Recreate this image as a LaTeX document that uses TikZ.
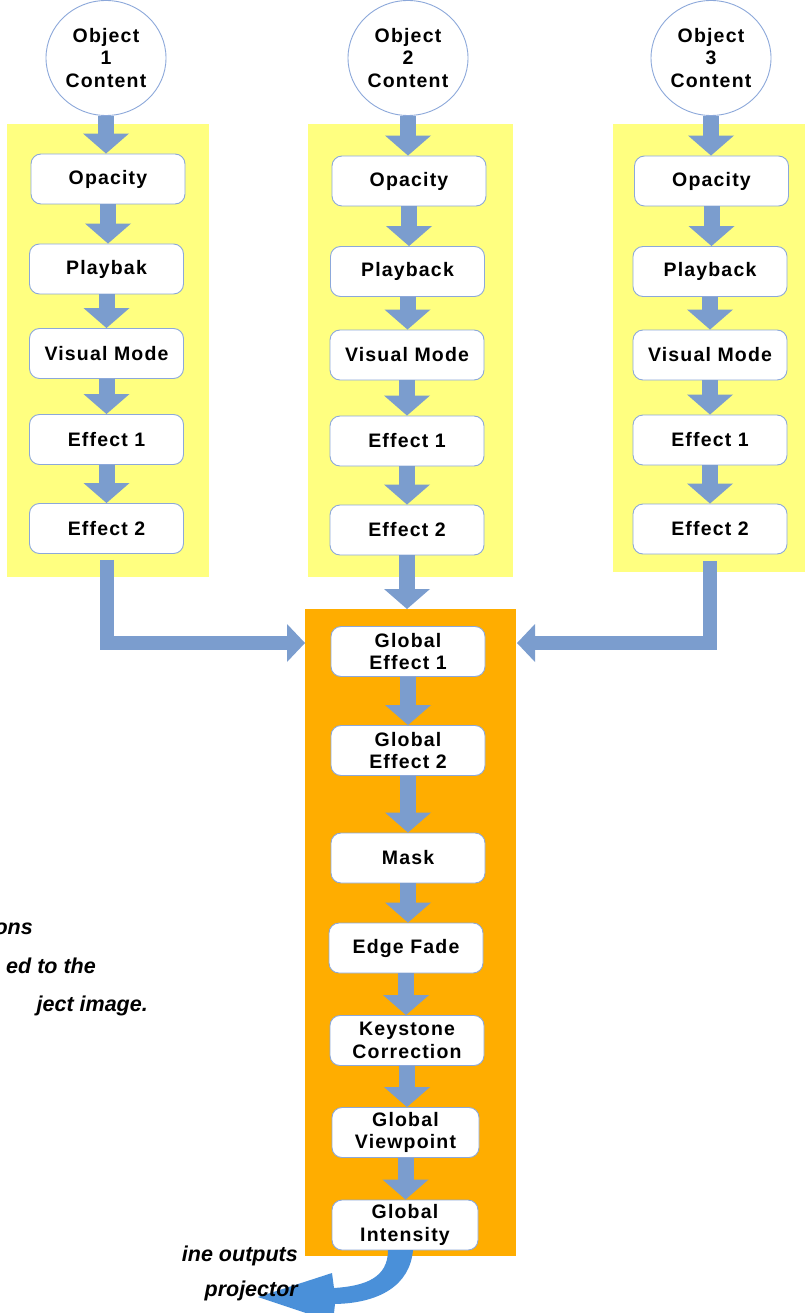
\documentclass[tikz,border=0pt]{standalone}
\usepackage{fontspec}
\newfontfamily\lbx{Liberation Sans}[LetterSpace=6]
\newfontfamily\lnote{Liberation Sans}
\usetikzlibrary{arrows.meta,shapes.geometric}
\definecolor{arrc}{RGB}{123,157,206}
\definecolor{yel}{RGB}{255,255,128}
\definecolor{org}{RGB}{255,173,0}
\definecolor{bord}{RGB}{140,168,218}
\definecolor{outblue}{RGB}{74,144,217}
\tikzset{
  txt/.style={font=\lbx\bfseries\fontsize{19.5}{22.8}\selectfont, align=center, text=black},
  box/.style={txt, draw=bord, line width=0.9pt, fill=white, rounded corners=10pt,
    minimum width=154pt, minimum height=50pt, inner sep=0pt},
  circ/.style={txt, ellipse, draw=bord, line width=0.9pt, fill=white,
    minimum width=120pt, minimum height=115pt, inner sep=0pt},
  panel/.style={draw=none, inner sep=0pt, outer sep=0pt},
  varr/.style={draw=arrc, line width=16pt, -{Triangle[width=46pt,length=20pt,line width=0pt]}},
  larr/.style={draw=arrc, line width=14pt, line join=miter, -{Triangle[width=38pt,length=18pt,line width=0pt]}},
  note/.style={font=\lnote\bfseries\itshape\fontsize{21.5}{24}\selectfont, text=black, inner sep=0pt}
}
\begin{document}
\begin{tikzpicture}[x=1pt,y=-1pt]
\useasboundingbox (0,0) rectangle (804,1313);
% panels
\node[panel, fill=yel, minimum width=202pt, minimum height=453pt] (y1) at (108,350.5) {};
\node[panel, fill=yel, minimum width=205pt, minimum height=453pt] (y2) at (410.5,350.5) {};
\node[panel, fill=yel, minimum width=193pt, minimum height=448pt] (y3) at (709.5,348) {};
\node[panel, fill=org, minimum width=211pt, minimum height=647pt] (gl) at (410.5,932.5) {};
% circles
\node[circ] (o1) at (106,58) {Object\\1\\Content};
\node[circ] (o2) at (408,58) {Object\\2\\Content};
\node[circ] (o3) at (711,58) {Object\\3\\Content};
% column 1
\node[box] (a1) at (108,179) {Opacity};
\node[box] (a2) at (106.5,269) {Playbak};
\node[box] (a3) at (106.5,353.5) {Visual Mode};
\node[box] (a4) at (106.5,439.5) {Effect 1};
\node[box] (a5) at (106.5,528.5) {Effect 2};
% column 2
\node[box] (b1) at (409,181) {Opacity};
\node[box] (b2) at (407.5,271.5) {Playback};
\node[box] (b3) at (407,355) {Visual Mode};
\node[box] (b4) at (407,441) {Effect 1};
\node[box] (b5) at (407,530) {Effect 2};
% column 3
\node[box] (c1) at (711.5,181) {Opacity};
\node[box] (c2) at (710,271.5) {Playback};
\node[box] (c3) at (710,355) {Visual Mode};
\node[box] (c4) at (710,440) {Effect 1};
\node[box] (c5) at (710,529) {Effect 2};
% global column
\node[box] (g1) at (408,651.5) {Global\\Effect 1};
\node[box] (g2) at (408,750.5) {Global\\Effect 2};
\node[box] (g3) at (408,858) {Mask};
\node[box] (g4) at (406,948) {Edge Fade};
\node[box] (g5) at (407,1040.5) {Keystone\\Correction};
\node[box, minimum width=147pt] (g6) at (405.5,1132.5) {Global\\Viewpoint};
\node[box, minimum width=146pt] (g7) at (405,1225) {Global\\Intensity};
% vertical arrows
\foreach \s/\t in {o1/a1,a1/a2,a2/a3,a3/a4,a4/a5,
                   o2/b1,b1/b2,b2/b3,b3/b4,b4/b5,
                   o3/c1,c1/c2,c2/c3,c3/c4,c4/c5,
                   g1/g2,g2/g3,g3/g4,g4/g5,g5/g6,g6/g7}
  \draw[varr] (\s.south) -- (\s.south |- \t.north);
\draw[varr] (b5.south) -- (b5.south |- gl.north);
% side arrows
\coordinate (lin) at (305,643);
\coordinate (rin) at (517,643);
\draw[larr] ([yshift=-6pt]a5.south) |- (lin);
\draw[larr] ([yshift=-7pt]c5.south) |- (rin);
% output arrow
\fill[outblue] (388,1250) .. controls (388,1278) and (365,1286) .. (334,1288)
  -- (332,1273) -- (258,1297) -- (333,1322) -- (335,1304)
  .. controls (380,1303) and (410,1285) .. (413,1250) -- cycle;
% notes
\node[note, anchor=base east] (n1) at (33,934) {ons};
\node[note, anchor=base east] (n2) at (96,973) {ed to the};
\node[note, anchor=base east] (n3) at (148,1011) {ject image.};
\node[note, anchor=base east] (n4) at (298,1261) {ine outputs};
\node[note, anchor=base east] (n5) at (298,1296) {projector};
\end{tikzpicture}
\end{document}
